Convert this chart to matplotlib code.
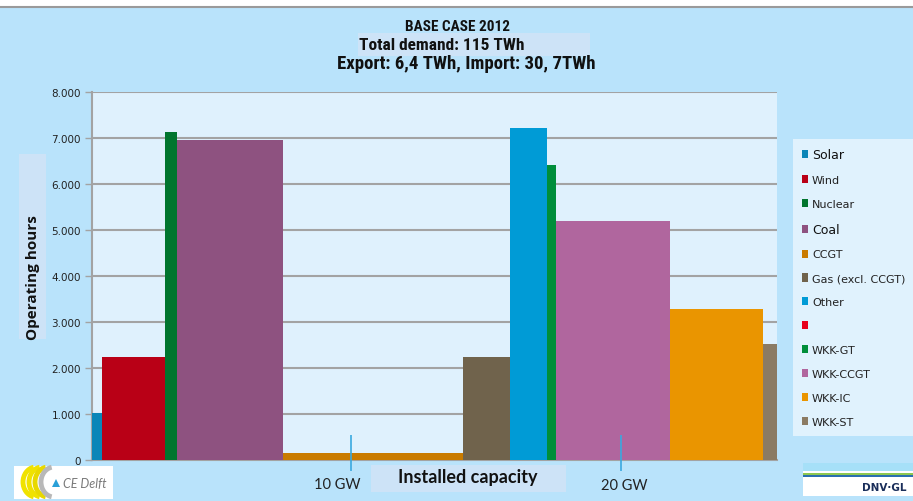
import numpy as np
import matplotlib
matplotlib.use("Agg")
import matplotlib.pyplot as plt
from matplotlib.patches import Rectangle, Patch, Arc, Polygon
from matplotlib import font_manager

# ---- data ----
technologies = ["Solar", "Wind", "Nuclear", "Coal", "CCGT", "Gas (excl. CCGT)", "Other", "",
                "WKK-GT", "WKK-CCGT", "WKK-IC", "WKK-ST"]
capacity_gw = [0.38, 2.31, 0.44, 3.93, 6.67, 1.76, 1.35, 0.0, 0.36, 4.21, 3.46, 0.50]
operating_hours = [1020, 2250, 7120, 6950, 160, 2250, 7220, 0, 6420, 5200, 3290, 2530]
colors = ["#0a86b8", "#b90016", "#00752e", "#8e5280", "#c97b00", "#70634c", "#009bd6",
          "#e8001c", "#008e3a", "#b0669e", "#ea9500", "#8b7b63"]
yticks = [0, 1000, 2000, 3000, 4000, 5000, 6000, 7000, 8000]
ytick_labels = ["0", "1.000", "2.000", "3.000", "4.000", "5.000", "6.000", "7.000", "8.000"]
xtick_pos = [9.6, 19.6]
xtick_labels = ["10 GW", "20 GW"]
title_lines = ["BASE CASE 2012", "Total demand: 115 TWh", "Export: 6,4 TWh, Import: 30, 7TWh"]

names = {f.name for f in font_manager.fontManager.ttflist}
narrow = None
for cand in ["Liberation Sans Narrow", "DejaVu Sans Condensed", "Roboto Condensed"]:
    if cand in names:
        narrow = dict(family=cand)
        break
if narrow is None:
    narrow = dict(family="DejaVu Sans", fontstretch="condensed")

W, H = 913, 502
fig = plt.figure(figsize=(W / 100, H / 100), dpi=100)
bg = "#b9e3fb"
fig.patch.set_facecolor(bg)

def fx(px):
    return px / W

def fy(py):
    return 1 - py / H

fig.add_artist(Rectangle((0, fy(8)), 1, 8 / H, transform=fig.transFigure,
                         facecolor="white", edgecolor="none", zorder=0))
fig.add_artist(plt.Line2D([0, 1], [fy(8), fy(8)], transform=fig.transFigure,
                          color="#9a9a9a", lw=1.5))

ax = fig.add_axes([fx(92), fy(461), fx(777 - 92), (461 - 93) / H])
ax.set_facecolor("#dff1fd")

lefts = np.concatenate([[0], np.cumsum(capacity_gw)[:-1]])
ax.bar(lefts, operating_hours, width=capacity_gw, align="edge", color=colors,
       edgecolor="none", zorder=3)

total = float(np.sum(capacity_gw))
ax.set_xlim(0, total)
ax.set_ylim(0, 8000)
ax.set_yticks(yticks)
ax.set_yticklabels(ytick_labels, fontsize=7.5, color="#222222")
ax.yaxis.grid(True, color="#a3a3a3", lw=1.5, zorder=1)
ax.set_axisbelow(True)
ax.tick_params(axis="y", length=5, color="#a3a3a3", width=1, pad=3)
ax.set_xticks([])
for s in ["top", "right"]:
    ax.spines[s].set_visible(False)
for s in ["left", "bottom"]:
    ax.spines[s].set_color("#a3a3a3")
    ax.spines[s].set_linewidth(1.5)

ax.vlines(xtick_pos, -230, 543, color="#3aa9e0", lw=1.2, zorder=5, clip_on=False)
label_px = [337, 624]
label_py = [485, 486]
for px, py, lab in zip(label_px, label_py, xtick_labels):
    fig.text(fx(px), fy(py), lab, ha="center", va="center", fontsize=10.5,
             color="#222222", family="Lato")

fig.add_artist(Rectangle((fx(371), fy(493)), fx(566 - 371), (493 - 466) / H,
                         transform=fig.transFigure, facecolor="#cde3f7", edgecolor="none"))
fig.text(fx(468), fy(478), "Installed capacity", ha="center", va="center",
         fontsize=13, fontweight="bold", color="#111111", family="Lato")

fig.add_artist(Rectangle((fx(19), fy(340)), fx(27), (340 - 155) / H,
                         transform=fig.transFigure, facecolor="#cde3f7", edgecolor="none"))
fig.text(fx(33), fy(278), "Operating hours", ha="center", va="center", rotation=90,
         fontsize=11, fontweight="bold", family="Open Sans", color="#111111")

fig.add_artist(Rectangle((fx(358), fy(57)), fx(590 - 358), (57 - 34) / H,
                         transform=fig.transFigure, facecolor="#cde3f7", edgecolor="none"))
fig.text(fx(457), fy(27), title_lines[0], ha="center", va="center", fontsize=11,
         fontweight="bold", color="#111111", **narrow)
fig.text(fx(442), fy(46), title_lines[1], ha="center", va="center", fontsize=12.5,
         fontweight="bold", color="#111111", **narrow)
fig.text(fx(466), fy(64), title_lines[2], ha="center", va="center", fontsize=13.5,
         fontweight="bold", color="#111111", **narrow)

handles = [Patch(facecolor=c, edgecolor="none") for c in colors]
leg = fig.legend(handles, technologies, loc="upper left",
                 bbox_to_anchor=(fx(793), fy(140)), bbox_transform=fig.transFigure,
                 fontsize=8, frameon=True, fancybox=False, handlelength=0.55,
                 handleheight=0.75, handletextpad=0.35, labelspacing=1.25,
                 borderpad=0.8, borderaxespad=0)
leg.get_frame().set_facecolor("#e0f2fd")
leg.get_frame().set_edgecolor("none")
leg.get_frame().set_alpha(1)
for t in leg.get_texts():
    t.set_color("#222222")
    if t.get_text() in ("Solar", "Coal"):
        t.set_fontsize(9)
        t.set_color("#111111")

# CE Delft logo (approximation)
fig.add_artist(Rectangle((fx(14), fy(500)), fx(99), 33 / H, transform=fig.transFigure,
                         facecolor="white", edgecolor="none"))
for off, col in [(0, "#f0e200"), (6, "#f0e200"), (12, "#e8d800"), (18, "#b8b8b8")]:
    fig.add_artist(Arc((fx(36 + off), fy(483)), fx(26), 30 / H, theta1=95, theta2=265,
                       transform=fig.transFigure, color=col, lw=3.5))
fig.add_artist(Polygon([[fx(52), fy(488)], [fx(60), fy(488)], [fx(56), fy(480)]],
                       closed=True, transform=fig.transFigure, facecolor="#2aa0d8",
                       edgecolor="none"))
fig.text(fx(63), fy(484), "CE Delft", ha="left", va="center", fontsize=9,
         style="italic", color="#7a7a7a", family="Lato")

# DNV GL logo (approximation)
fig.add_artist(Rectangle((fx(803), fy(497)), fx(110), 33 / H, transform=fig.transFigure,
                         facecolor="white", edgecolor="none"))
stripes = [(464, 8, "#a6e0f8"), (472, 2, "#ffffff"), (474, 2, "#8cc850"),
           (476, 2, "#2a6fb0"), (478, 1, "#ffffff")]
for y0, hh, c in stripes:
    fig.add_artist(Rectangle((fx(803), fy(y0 + hh)), fx(110), hh / H,
                             transform=fig.transFigure, facecolor=c, edgecolor="none"))
fig.text(fx(884), fy(488), "DNV·GL", ha="center", va="center", fontsize=7.5,
         fontweight="bold", color="#1a2e5a")

fig.savefig("out.png", dpi=100, facecolor=fig.get_facecolor())
